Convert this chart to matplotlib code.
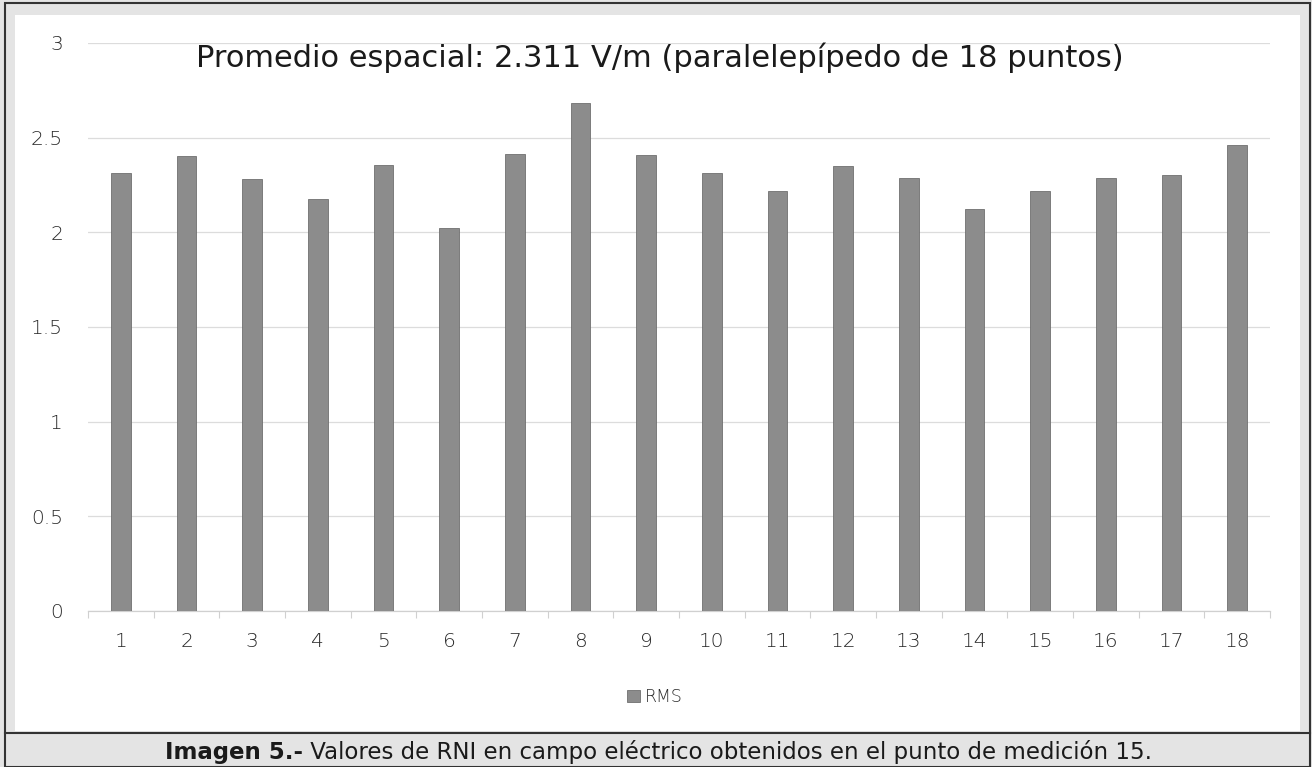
import matplotlib.pyplot as plt
from matplotlib.patches import Rectangle
from matplotlib.lines import Line2D

plt.rcParams['font.family'] = ['DejaVu Sans']

# datos
puntos = list(range(1, 19))
rms = [2.311, 2.403, 2.283, 2.177, 2.353, 2.021, 2.415, 2.682, 2.408,
       2.314, 2.216, 2.350, 2.287, 2.124, 2.218, 2.287, 2.302, 2.462]
yticks = [0, 0.5, 1, 1.5, 2, 2.5, 3]
ytick_labels = ['0', '0.5', '1', '1.5', '2', '2.5', '3']

titulo = 'Promedio espacial: 2.311 V/m (paralelepípedo de 18 puntos)'
pie_bold = 'Imagen 5.-'
pie_texto = ' Valores de RNI en campo eléctrico obtenidos en el punto de medición 15.'

W, H = 1312, 767
fig = plt.figure(figsize=(W / 100, H / 100), dpi=100)
fig.patch.set_facecolor('#e4e4e4')

def px(x0, y0, x1, y1):
    # caja en pixeles -> fracción de figura
    return (x0 / W, 1 - y1 / H, (x1 - x0) / W, (y1 - y0) / H)

# fondo blanco del gráfico
x, y, w, h = px(15, 15, 1300, 731)
fig.add_artist(Rectangle((x, y), w, h, transform=fig.transFigure,
                         facecolor='white', edgecolor='none', zorder=0))
# marco exterior y línea del pie
x, y, w, h = px(5, 3, 1310, 767)
fig.add_artist(Rectangle((x, y), w, h, transform=fig.transFigure,
                         facecolor='none', edgecolor='#333333', lw=1.5, zorder=1))
fig.add_artist(Line2D([5 / W, 1310 / W], [1 - 733 / H] * 2, transform=fig.transFigure,
                      color='#333333', lw=1.5, zorder=1))

ax = fig.add_axes([88 / W, 1 - 611 / H, (1270 - 88) / W, (611 - 43) / H])
ax.set_facecolor('none')
ax.bar(puntos, rms, width=0.3, color='#8c8c8c', edgecolor='#707070', lw=0.6,
       zorder=3, label='RMS')

ax.set_xlim(0.5, 18.5)
ax.set_ylim(0, 3)
ax.set_yticks(yticks)
ax.set_yticklabels(ytick_labels)
ax.set_xticks(puntos)
ax.set_xticks([i + 0.5 for i in range(0, 19)], minor=True)
ax.tick_params(axis='x', which='major', length=0, pad=15, labelsize=14.5, labelcolor='#2a2a2a')
ax.tick_params(axis='x', which='minor', length=5, color='#d0d0d0', width=0.8)
ax.tick_params(axis='y', length=0, pad=18, labelsize=14.5, labelcolor='#2a2a2a')
for lab in ax.get_xticklabels() + ax.get_yticklabels():
    lab.set_fontweight('light')

ax.grid(axis='y', color='#dcdcdc', lw=0.9, zorder=0)
for s in ['top', 'right', 'left']:
    ax.spines[s].set_visible(False)
ax.spines['bottom'].set_color('#d0d0d0')
ax.spines['bottom'].set_linewidth(0.9)

fig.text(660 / W, 1 - 58 / H, titulo, ha='center', va='center',
         fontsize=22, color='#1a1a1a')

leg = ax.legend(loc='center', bbox_to_anchor=(655 / W, 1 - 697 / H),
                bbox_transform=fig.transFigure, frameon=False, fontsize=12.5,
                handlelength=0.7, handleheight=0.7, handletextpad=0.3,
                labelcolor='#2a2a2a')
for txt in leg.get_texts():
    txt.set_fontweight('light')

t = fig.text(165 / W, 1 - 752 / H, pie_bold, ha='left', va='center',
             fontsize=16.5, fontweight='bold', color='#1a1a1a')
fig.canvas.draw()
bb = t.get_window_extent()
fig.text(bb.x1 / W, 1 - 752 / H, pie_texto, ha='left', va='center',
         fontsize=16.5, color='#1a1a1a')

fig.savefig('out.png', dpi=100, facecolor=fig.get_facecolor())
